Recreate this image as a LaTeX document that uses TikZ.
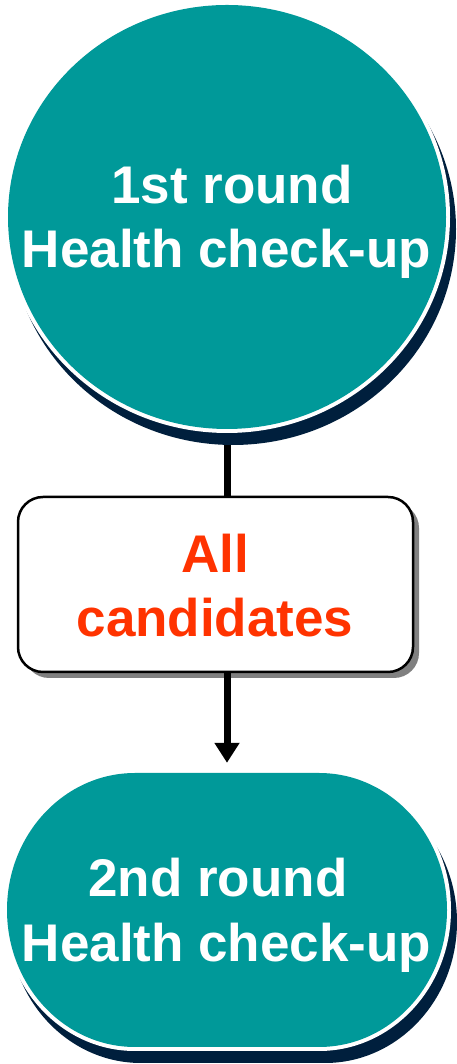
\documentclass[tikz,border=0pt]{standalone}
\usepackage{fontspec}
\setmainfont{Liberation Sans}
\usetikzlibrary{arrows.meta,backgrounds,shapes.geometric}

\definecolor{tealfill}{RGB}{0,153,153}
\definecolor{navyshadow}{RGB}{0,31,61}
\definecolor{boxshadow}{RGB}{128,128,128}
\definecolor{redtext}{RGB}{255,51,0}

% terminator outline: centre (#1,#2), half width #3, half height #4, end radius #5
\newcommand{\termshape}[5]{%
  ({#1-#3+#5},{#2+#4}) -- ({#1+#3-#5},{#2+#4})
  arc[start angle=90,end angle=-90,x radius=#5,y radius=#4]
  -- ({#1-#3+#5},{#2-#4})
  arc[start angle=270,end angle=90,x radius=#5,y radius=#4] -- cycle}

\tikzset{
  bigtext/.style={font=\bfseries\fontsize{53}{64}\selectfont, inner sep=0pt, anchor=base},
  whitetext/.style={bigtext, text=white},
  redlabel/.style={bigtext, text=redtext},
  flowline/.style={line width=7pt, draw=black},
}

\begin{document}
\begin{tikzpicture}[x=1pt,y=1pt]
\useasboundingbox (0,0) rectangle (456,1064);

% first round: shadow, white rim, teal disc
\fill[navyshadow] (233,835) ellipse[x radius=223, y radius=216];
\fill[white] (227,847) ellipse[x radius=223, y radius=216];
\node[ellipse, fill=tealfill, minimum width=438pt, minimum height=424pt, inner sep=0pt] (r1) at (227,847) {};
\node[whitetext] (r1a) at (232,860) {1st round};
\node[whitetext] (r1b) at (226.5,796) {Health check-up};

% candidate box
\fill[boxshadow, rounded corners=25pt] (24,386) rectangle (419,561);
\node[draw=black, line width=2.5pt, fill=white, rounded corners=25pt,
      minimum width=395pt, minimum height=175pt, inner sep=0pt] (box) at (215.5,479.5) {};
\node[redlabel] (boxa) at (215,491) {All};
\node[redlabel] (boxb) at (215,427) {candidates};

% second round: shadow, white rim, teal terminator
\node[minimum width=440pt, minimum height=274pt, inner sep=0pt] (r2) at (227,154) {};
\fill[navyshadow] \termshape{233}{142}{224}{141}{132};
\fill[white] \termshape{227}{154}{224}{141}{132};
\fill[tealfill] \termshape{227}{154}{220}{137}{128};
\node[whitetext] (r2a) at (218,167) {2nd round};
\node[whitetext] (r2b) at (226.5,102) {Health check-up};

% connectors
\begin{scope}[on background layer]
  \fill[white] (0,0) rectangle (456,1064);
  \draw[flowline] (227,847 |- r1.south) -- (227,847 |- box.north);
\end{scope}
\draw[flowline, -{Triangle[length=20pt,width=24pt]}, shorten >=10pt]
  (227,847 |- box.south) -- (227,847 |- r2.north);
\end{tikzpicture}
\end{document}
